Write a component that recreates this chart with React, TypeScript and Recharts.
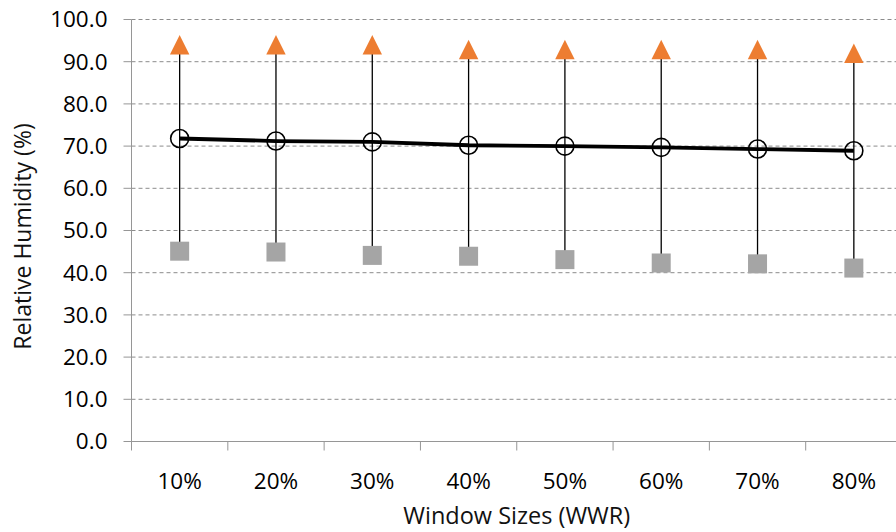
import React from 'react';
import { ComposedChart, Line, XAxis, YAxis, CartesianGrid, ErrorBar } from 'recharts';

const categories = ['10%', '20%', '30%', '40%', '50%', '60%', '70%', '80%'];
const maxRH = [94.0, 94.0, 94.0, 92.9, 92.9, 92.9, 92.9, 92.0];
const meanRH = [71.8, 71.2, 71.0, 70.2, 70.0, 69.7, 69.3, 68.9];
const minRH = [45.1, 44.9, 44.1, 43.9, 43.1, 42.3, 42.1, 41.1];
const yTicks = [0, 10, 20, 30, 40, 50, 60, 70, 80, 90, 100];

// x runs 1..n, category boundaries sit on the half positions
const xTicks = [0.5, ...categories.flatMap((_, i) => [i + 1, i + 1.5])];

const data = categories.map((name, i) => ({
  pos: i + 1,
  name,
  max: maxRH[i],
  mean: meanRH[i],
  min: minRH[i],
  range: [meanRH[i] - minRH[i], maxRH[i] - meanRH[i]]
}));

const FONT = "'Open Sans', sans-serif";
const AXIS_GRAY = '#969696';
const GRID_GRAY = '#8c8c8c';

const XTick = (props: any) => {
  const { x, y, payload } = props;
  const v = payload.value;
  if (Number.isInteger(v)) {
    return (
      <text x={x} y={y + 47} textAnchor="middle" fill="#000" fontSize={22.5} fontFamily={FONT}>
        {categories[v - 1]}
      </text>
    );
  }
  return <line x1={x} x2={x} y1={y} y2={y + 9} stroke={AXIS_GRAY} strokeWidth={1} />;
};

const XTitle = (props: any) => {
  const { x, y, width } = props.viewBox;
  return (
    <text x={x + width / 2} y={y + 82} textAnchor="middle" fill="#111" fontSize={23.5} fontFamily={FONT}>
      Window Sizes (WWR)
    </text>
  );
};

const YTitle = (props: any) => {
  const { y, height } = props.viewBox;
  const cx = 30.5;
  const cy = y + height / 2 + 6;
  return (
    <text
      x={cx}
      y={cy}
      transform={`rotate(-90 ${cx} ${cy})`}
      textAnchor="middle"
      fill="#111"
      fontSize={23}
      fontFamily={FONT}
    >
      Relative Humidity (%)
    </text>
  );
};

const Triangle = (props: any) => {
  const { cx, cy, index } = props;
  if (cx == null || cy == null) return <g key={`t${index}`} />;
  const h = 9.7;
  return (
    <polygon
      key={`t${index}`}
      points={`${cx},${cy - h} ${cx + h},${cy + h} ${cx - h},${cy + h}`}
      fill="#ED7D31"
    />
  );
};

const Square = (props: any) => {
  const { cx, cy, index } = props;
  if (cx == null || cy == null) return <g key={`s${index}`} />;
  return <rect key={`s${index}`} x={cx - 9.5} y={cy - 9.5} width={19} height={19} fill="#A5A5A5" />;
};

const Circle = (props: any) => {
  const { cx, cy, index } = props;
  if (cx == null || cy == null) return <g key={`c${index}`} />;
  return <circle key={`c${index}`} cx={cx} cy={cy} r={9} fill="none" stroke="#000" strokeWidth={1.6} />;
};

export default function App() {
  return (
    <div
      style={{
        position: 'absolute',
        left: 0,
        top: 0,
        width: 896,
        height: 532,
        overflow: 'hidden',
        background: '#fff',
        fontFamily: FONT
      }}
    >
      <ComposedChart width={904} height={532} data={data} margin={{ top: 19.5, right: 2, bottom: 0, left: 0 }}>
        <CartesianGrid vertical={false} stroke={GRID_GRAY} strokeDasharray="4 3" />
        <XAxis
          dataKey="pos"
          type="number"
          domain={[0.5, categories.length + 0.5]}
          ticks={xTicks}
          interval={0}
          tickLine={false}
          tickSize={0}
          tickMargin={0}
          tick={<XTick />}
          axisLine={{ stroke: AXIS_GRAY }}
          height={90.5}
          label={<XTitle />}
        />
        <YAxis
          type="number"
          domain={[0, 100]}
          ticks={yTicks}
          interval={0}
          width={131.5}
          tickSize={8}
          tickMargin={16}
          tickFormatter={(v: number) => v.toFixed(1)}
          tick={{ fill: '#000', fontSize: 22.5, fontFamily: FONT }}
          tickLine={{ stroke: AXIS_GRAY }}
          axisLine={{ stroke: AXIS_GRAY }}
          label={<YTitle />}
        />
        <Line
          dataKey="mean"
          stroke="#000"
          strokeWidth={3.8}
          dot={Circle}
          activeDot={false}
          isAnimationActive={false}
        >
          <ErrorBar dataKey="range" width={0} stroke="#000" strokeWidth={1.3} direction="y" isAnimationActive={false} />
        </Line>
        <Line
          dataKey="max"
          stroke="none"
          dot={Triangle}
          activeDot={false}
          isAnimationActive={false}
        />
        <Line
          dataKey="min"
          stroke="none"
          dot={Square}
          activeDot={false}
          isAnimationActive={false}
        />
      </ComposedChart>
    </div>
  );
}
